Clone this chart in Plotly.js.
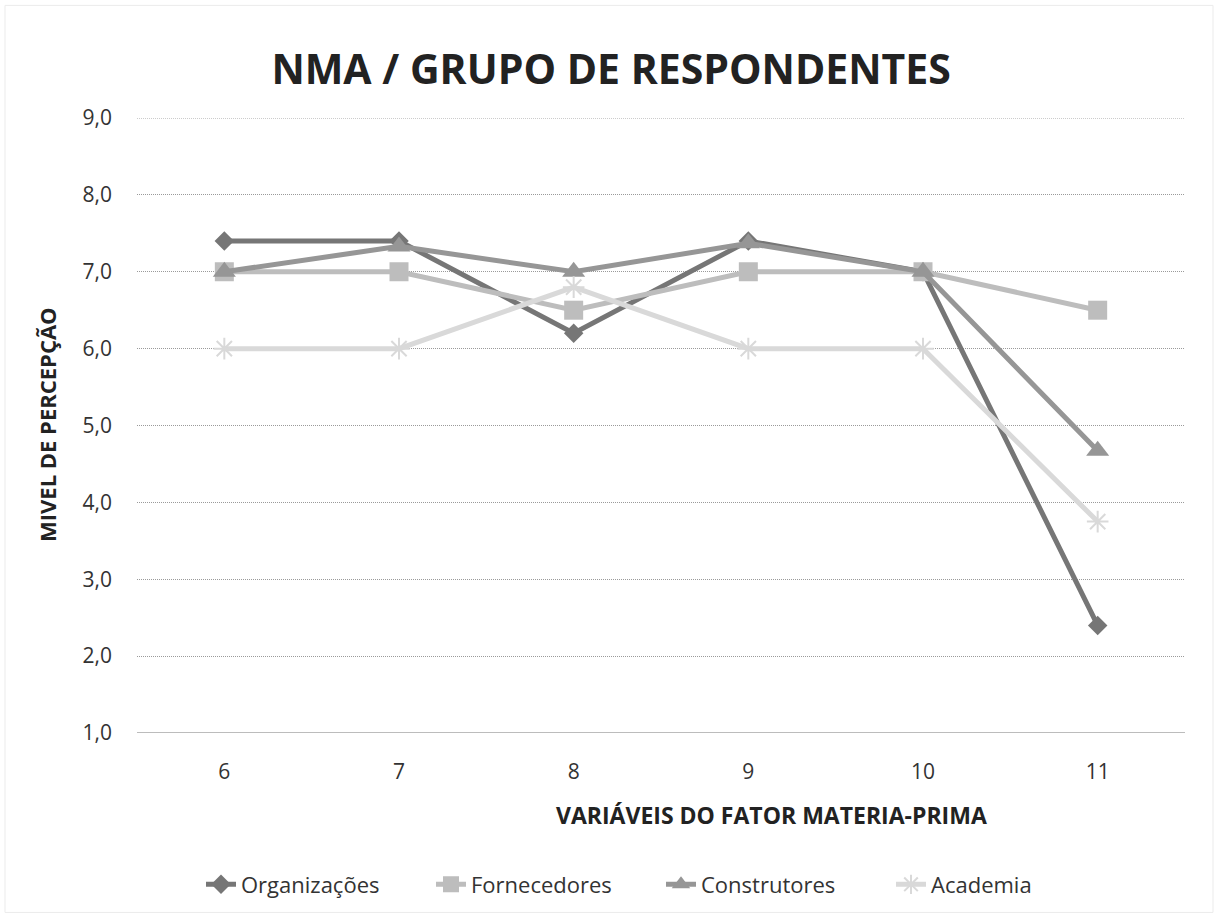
<!DOCTYPE html>
<html>
<head>
<meta charset="utf-8">
<script src="https://cdn.plot.ly/plotly-3.0.1.min.js"></script>
<style>html,body{margin:0;padding:0;background:#fff;}#chart{width:1215px;height:917px;}</style>
</head>
<body>
<div id="chart"></div>
<script>
const categories = ['6', '7', '8', '9', '10', '11'];
const seriesNames = ['Organizações', 'Fornecedores', 'Construtores', 'Academia'];
const organizacoes = [7.4, 7.4, 6.2, 7.4, 7.0, 2.4];
const fornecedores = [7.0, 7.0, 6.5, 7.0, 7.0, 6.5];
const construtores = [7.0, 7.33, 7.0, 7.37, 7.0, 4.67];
const academia = [6.0, 6.0, 6.8, 6.0, 6.0, 3.75];
const yTickVals = [1, 2, 3, 4, 5, 6, 7, 8, 9];
const yTickText = ['1,0', '2,0', '3,0', '4,0', '5,0', '6,0', '7,0', '8,0', '9,0'];

const W = 1215, H = 917;
const M = {l: 137, r: 30, t: 118, b: 182};
const PW = W - M.l - M.r, PH = H - M.t - M.b;
const px = x => (x - M.l) / PW;
const py = y => (H - M.b - y) / PH;

const styles = [
  {color: '#767676', symbol: 'diamond', size: 15},
  {color: '#BDBDBD', symbol: 'square', size: 19},
  {color: '#969696', symbol: 'triangle-up', size: 20},
  {color: '#D9D9D9', symbol: 'asterisk-open', size: 18}
];
const values = [organizacoes, fornecedores, construtores, academia];

const traces = values.map((v, i) => ({
  type: 'scatter',
  mode: 'lines+markers',
  name: seriesNames[i],
  x: categories,
  y: v,
  line: {color: styles[i].color, width: 5},
  marker: {
    symbol: styles[i].symbol,
    size: styles[i].size,
    color: styles[i].color,
    line: {color: styles[i].color, width: styles[i].symbol === 'asterisk-open' ? 2 : 0}
  }
}));

const font = 'Open Sans, Noto Sans, sans-serif';
const gridColor = '#9A9A9A';
const gridDash = '1px,1px';

const layout = {
  width: W, height: H,
  margin: M,
  paper_bgcolor: '#ffffff',
  plot_bgcolor: '#ffffff',
  font: {family: font, color: '#333333', size: 21},
  title: {
    text: '<b>NMA / GRUPO DE RESPONDENTES</b>',
    font: {family: font, size: 41, color: '#222222'},
    x: 0.503, xref: 'container', xanchor: 'center',
    y: 1 - 70 / H, yanchor: 'middle'
  },
  xaxis: {
    type: 'category',
    range: [-0.5, 5.5],
    showgrid: false,
    zeroline: false,
    showline: false,
    ticks: '',
    ticklabelstandoff: 24,
    tickfont: {family: font, size: 21, color: '#333333'},
    fixedrange: true
  },
  yaxis: {
    range: [1, 9],
    tickvals: yTickVals,
    ticktext: yTickText,
    showgrid: true,
    gridcolor: gridColor,
    griddash: gridDash,
    gridwidth: 1,
    zeroline: false,
    showline: false,
    ticks: '',
    ticklabelstandoff: 24,
    tickfont: {family: font, size: 21, color: '#333333'},
    fixedrange: true
  },
  showlegend: true,
  legend: {
    orientation: 'h',
    x: 0.5, xanchor: 'center',
    y: py(887), yanchor: 'middle',
    font: {family: font, size: 22, color: '#333333'},
    entrywidth: 185,
    traceorder: 'normal'
  },
  shapes: [
    {type: 'line', xref: 'paper', yref: 'y', x0: 0, x1: 1, y0: 9, y1: 9,
     line: {color: gridColor, width: 1, dash: gridDash}},
    {type: 'line', xref: 'paper', yref: 'y', x0: 0, x1: 1, y0: 1, y1: 1,
     line: {color: '#A6A6A6', width: 1.5}},
    {type: 'rect', xref: 'paper', yref: 'paper', layer: 'below',
     x0: px(5), x1: px(1213), y0: py(5), y1: py(915),
     line: {color: '#EBEBEB', width: 1}}
  ],
  annotations: [
    {text: '<b>VARIÁVEIS DO FATOR MATERIA-PRIMA</b>', xref: 'paper', yref: 'paper',
     x: px(771), y: py(817), xanchor: 'center', yanchor: 'middle', showarrow: false,
     font: {family: font, size: 23, color: '#222222'}},
    {text: '<b>MIVEL DE PERCEPÇÃO</b>', xref: 'paper', yref: 'paper',
     x: px(47), y: py(426), xanchor: 'center', yanchor: 'middle', showarrow: false,
     textangle: -90,
     font: {family: font, size: 22, color: '#222222'}}
  ]
};

Plotly.newPlot('chart', traces, layout, {displayModeBar: false, staticPlot: true});
</script>
</body>
</html>
